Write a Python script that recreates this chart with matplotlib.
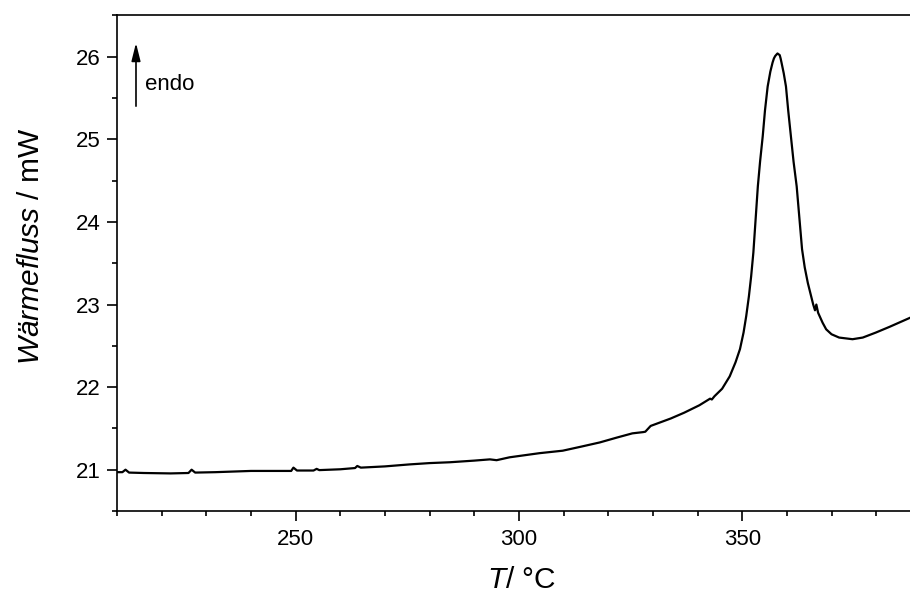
import matplotlib
matplotlib.use('Agg')
from matplotlib import pyplot as plt
from matplotlib.ticker import MultipleLocator

# DSC curve
temperature = [210.0, 211.2, 211.9, 212.7, 216.0, 222.0, 226.0, 226.7, 227.5, 232.0,
               240.0, 249.0, 249.5, 250.3, 254.0, 254.7, 255.3, 260.0, 263.3, 263.8,
               264.6, 270.0, 275.5, 280.0, 284.5, 290.0, 293.5, 295.0, 297.9, 304.6,
               309.8, 314.0, 318.1, 322.0, 325.4, 327.8, 328.3, 329.5, 331.0, 334.0,
               337.0, 340.4, 342.8, 343.2, 343.8, 345.5, 347.2, 348.5, 349.5, 350.3,
               350.9, 351.5, 352.0, 352.5, 353.0, 353.5, 354.0, 354.6, 355.1, 355.7,
               356.3, 356.8, 357.1, 357.4, 357.9, 358.4, 358.6, 358.8, 359.3, 359.8,
               360.3, 360.9, 361.5, 362.2, 362.8, 363.4, 364.0, 364.7, 365.9, 366.3,
               366.6, 367.0, 368.0, 368.8, 370.0, 371.7, 374.7, 377.0, 379.9, 383.0,
               387.6]
heat_flow = [20.97, 20.97, 21.00, 20.965, 20.96, 20.955, 20.96, 21.00, 20.965, 20.97,
             20.985, 20.985, 21.025, 20.99, 20.99, 21.01, 20.995, 21.005, 21.02, 21.045,
             21.025, 21.04, 21.064, 21.08, 21.09, 21.11, 21.125, 21.115, 21.15, 21.20,
             21.23, 21.28, 21.33, 21.39, 21.44, 21.455, 21.46, 21.53, 21.56, 21.62,
             21.69, 21.78, 21.86, 21.85, 21.89, 21.98, 22.13, 22.30, 22.46, 22.66,
             22.86, 23.10, 23.34, 23.63, 24.03, 24.43, 24.73, 25.04, 25.35, 25.64,
             25.82, 25.93, 25.98, 26.01, 26.04, 26.02, 25.98, 25.93, 25.80, 25.64,
             25.35, 25.04, 24.73, 24.43, 24.05, 23.67, 23.45, 23.26, 23.00, 22.93,
             23.00, 22.90, 22.78, 22.70, 22.64, 22.60, 22.58, 22.60, 22.66, 22.73,
             22.84]

x_major = 50
x_minor = 10
y_major = 1
y_minor = 0.5

plt.rcParams['font.family'] = 'Liberation Sans'
plt.rcParams['mathtext.fontset'] = 'custom'
plt.rcParams['mathtext.rm'] = 'Liberation Sans'
plt.rcParams['mathtext.it'] = 'Liberation Sans:italic'

fig = plt.figure(figsize=(9.1, 5.93), dpi=100)
ax = fig.add_axes([0.1286, 0.1383, 0.8833, 0.8356])

ax.plot(temperature, heat_flow, color='black', lw=1.6, solid_joinstyle='round')

ax.set_xlim(210, 390)
ax.set_ylim(20.5, 26.5)
ax.xaxis.set_major_locator(MultipleLocator(x_major))
ax.xaxis.set_minor_locator(MultipleLocator(x_minor))
ax.yaxis.set_major_locator(MultipleLocator(y_major))
ax.yaxis.set_minor_locator(MultipleLocator(y_minor))

ax.tick_params(which='both', direction='out', width=1.2, labelsize=16)
ax.tick_params(which='major', length=7)
ax.tick_params(which='minor', length=3.6)
ax.tick_params(axis='y', pad=5)
ax.tick_params(axis='x', pad=6)
for side in ['left', 'bottom', 'top']:
    ax.spines[side].set_linewidth(1.2)
ax.spines['right'].set_visible(False)

# axis labels placed by hand
fig.text(30.7 / 910, 1 - 246 / 593, r'$\mathit{Wärmefluss}$ / mW',
         rotation=90, ha='center', va='center', fontsize=21.5)
fig.text(521.7 / 910, 0.009, r'$\mathit{T}$/ °C',
         ha='center', va='baseline', fontsize=21.5)

# endo arrow
ax.annotate('', xy=(0.0236, 0.9445), xytext=(0.0236, 0.817),
            xycoords='axes fraction', textcoords='axes fraction',
            arrowprops=dict(arrowstyle='-|>,head_length=0.6,head_width=0.15',
                            mutation_scale=18, color='black', lw=1.2,
                            shrinkA=0, shrinkB=0))
ax.text(0.0348, 0.8497, 'endo', transform=ax.transAxes,
        ha='left', va='baseline', fontsize=16)

fig.savefig('out.png', dpi=100)
